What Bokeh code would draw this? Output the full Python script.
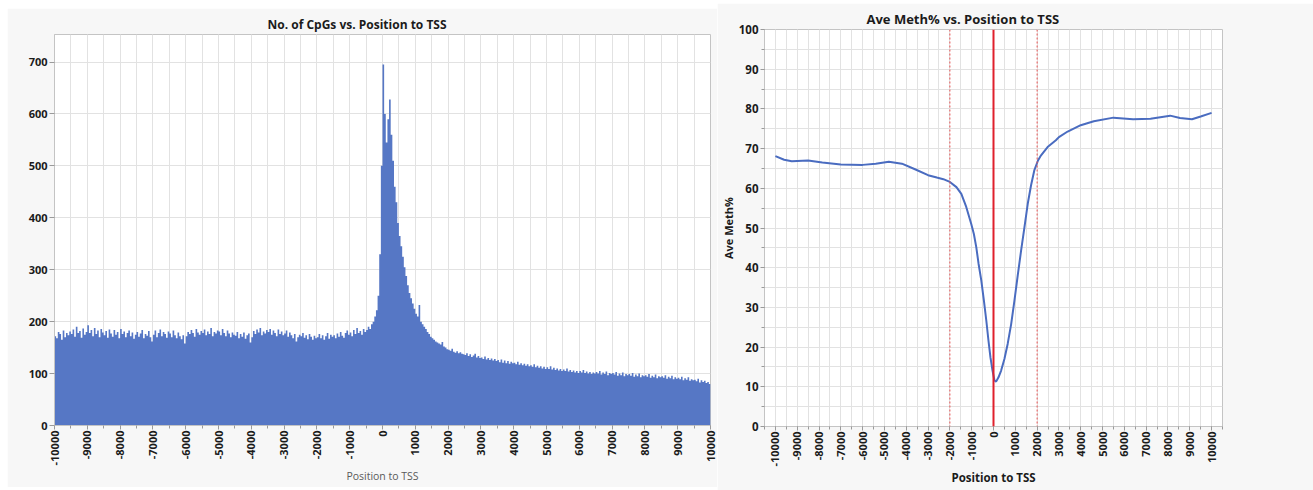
import numpy as np
from bokeh.plotting import figure
from bokeh.layouts import row, column
from bokeh.models import FixedTicker, Span, Spacer, Range1d
from bokeh.embed import file_html
from bokeh.resources import INLINE

# ---------------- Left chart data: No. of CpGs per 50 bp bin ----------------
bin_width = 50
bin_start = -10000
cpg_counts = [
    172,168,180,176,165,183,170,178,174,181,
    176,185,171,190,178,182,169,187,175,180,
    193,178,184,172,188,176,183,170,186,179,
    174,182,169,185,177,171,184,175,180,168,
    186,176,181,170,178,183,172,179,167,175,
    180,171,177,184,168,176,173,182,170,162,
    175,183,170,178,185,172,180,176,169,181,
    177,170,183,174,168,179,172,166,174,158,
    172,180,176,184,178,171,186,179,175,182,
    178,185,174,181,176,188,172,180,177,183,
    181,174,186,178,172,183,177,170,179,175,
    173,180,168,176,171,179,167,174,177,160,
    170,182,176,185,179,188,174,181,177,184,
    180,186,175,183,178,172,185,176,181,174,
    177,183,171,179,174,168,176,162,170,175,
    172,178,169,174,166,176,171,165,173,168,
    170,176,168,174,165,172,178,167,175,171,
    174,168,177,171,180,173,169,178,183,175,
    179,172,184,176,188,178,182,175,186,180,
    184,190,186,195,200,210,222,250,330,500,
    695,600,545,590,628,560,510,460,430,390,
    365,345,325,305,288,270,255,245,235,225,
    215,210,232,200,195,190,186,180,176,171,
    168,165,162,160,158,156,161,152,150,147,
    146,144,148,142,140,143,139,141,138,137,
    136,139,134,137,132,135,138,131,134,130,
    131,128,133,127,130,126,129,125,128,124,
    126,122,127,121,125,120,124,119,123,120,
    121,118,123,117,120,116,119,115,118,114,
    116,113,118,112,115,111,114,110,113,109,
    112,109,114,108,111,107,110,106,109,105,
    108,105,110,104,107,103,106,102,105,101,
    105,102,107,101,104,100,103,99,102,100,
    103,100,105,98,102,99,104,97,101,99,
    101,98,103,96,100,97,102,95,99,97,
    99,96,101,94,98,95,100,93,97,95,
    97,94,99,92,96,93,98,91,95,93,
    95,92,97,90,94,91,96,89,93,90,
    92,89,94,87,91,88,93,86,89,87,
    88,85,90,83,87,84,86,82,84,80,
]
left_title = "No. of CpGs vs. Position to TSS"
left_xlabel = "Position to TSS"
left_xticks = list(range(-10000, 10001, 1000))
left_xminor = list(range(-10000, 10001, 500))
left_yticks = [0, 100, 200, 300, 400, 500, 600, 700]

# ---------------- Right chart data: Ave Meth% ----------------
meth_pos = [-10000,-9600,-9250,-8500,-7850,-7000,-6000,-5400,-4800,-4200,-3600,
            -3000,-2600,-2300,-2000,-1700,-1475,-1250,-1020,-900,-790,-685,
            -560,-440,-330,-230,-140,-45,45,120,230,350,500,650,810,960,1110,
            1265,1420,1570,1720,1870,2040,2180,2480,2860,3000,3400,4000,4600,
            5500,6400,7200,8100,8550,9100,9500,10000]
meth_val = [68.1,67.2,66.8,67.0,66.5,66.0,65.9,66.2,66.7,66.2,64.8,
            63.3,62.7,62.3,61.6,60.3,58.6,55.3,51.0,48.5,45.2,41.0,
            36.8,31.7,26.7,21.6,17.4,14.1,11.6,11.3,12.4,14.1,17.0,20.8,25.8,31.7,38.0,
            44.3,50.2,56.1,60.7,64.5,67.0,68.3,70.4,72.1,72.9,74.3,75.9,76.9,
            77.8,77.4,77.5,78.3,77.7,77.4,78.1,79.0]
right_title = "Ave Meth% vs. Position to TSS"
right_xlabel = "Position to TSS"
right_ylabel = "Ave Meth%"
right_xticks = list(range(-10000, 10001, 1000))
right_xminor = list(range(-10500, 10501, 500))
right_yticks = list(range(0, 101, 10))
right_yminor = list(range(0, 101, 5))
marker_lines = [-2000, 2000]

FONT = "Open Sans"
BG = "#f7f7f7"
GRID = "#e2e2e2"
OUTLINE = "#c4c4c4"
TXT = "#1b1b1b"


def style_axes(p, size):
    for ax in (p.xaxis, p.yaxis):
        ax.major_label_text_font = FONT
        ax.major_label_text_font_style = "bold"
        ax.major_label_text_font_size = size
        ax.major_label_text_color = TXT
        ax.axis_line_color = OUTLINE
        ax.major_tick_line_color = "#9a9a9a"
        ax.minor_tick_line_color = "#9a9a9a"
        ax.major_tick_in = 0
        ax.minor_tick_in = 0
        ax.major_tick_out = 4
        ax.minor_tick_out = 3
        ax.major_label_standoff = 2


# ---------------- Left figure ----------------
p1 = figure(width=710, height=479, output_backend="svg", toolbar_location=None,
            x_range=Range1d(-10000, 10000), y_range=Range1d(0, 753),
            min_border_left=47, min_border_right=7, min_border_top=26,
            min_border_bottom=62)
p1.background_fill_color = "white"
p1.border_fill_color = BG
p1.outline_line_color = OUTLINE

edges = bin_start + bin_width * np.arange(len(cpg_counts) + 1)
xs = np.repeat(edges, 2)[1:-1]
ys = np.repeat(np.array(cpg_counts, dtype=float), 2)
p1.varea(x=xs, y1=0, y2=ys, fill_color="#5677c5")

p1.title.text = left_title
p1.title.text_font = FONT
p1.title.text_font_size = "12px"
p1.title.text_font_style = "bold"
p1.title.text_color = TXT
p1.title.align = "left"
p1.title.offset = 213
p1.title.standoff = 4

p1.xaxis.ticker = FixedTicker(ticks=left_xticks, minor_ticks=left_xminor)
p1.yaxis.ticker = FixedTicker(ticks=left_yticks, minor_ticks=[])
p1.xaxis.major_label_overrides = {t: str(t) for t in left_xticks}
p1.xaxis.major_label_orientation = np.pi / 2
style_axes(p1, "11px")
p1.yaxis.major_tick_out = 5
p1.xaxis.major_label_text_font_size = "11px"
p1.xaxis.major_label_standoff = 1
p1.xaxis.axis_label = left_xlabel
p1.xaxis.axis_label_text_font = FONT
p1.xaxis.axis_label_text_font_style = "normal"
p1.xaxis.axis_label_text_font_size = "10.5px"
p1.xaxis.axis_label_text_color = "#5a5a5a"
p1.xaxis.axis_label_standoff = 1
p1.xgrid.ticker = FixedTicker(ticks=left_xticks, minor_ticks=left_xminor)
p1.xgrid.grid_line_color = GRID
p1.xgrid.minor_grid_line_color = GRID
p1.ygrid.grid_line_color = GRID

# ---------------- Right figure ----------------
p2 = figure(width=596, height=487, output_backend="svg", toolbar_location=None,
            x_range=Range1d(-10500, 10500), y_range=Range1d(0, 100),
            min_border_left=45, min_border_right=91, min_border_top=26,
            min_border_bottom=64)
p2.background_fill_color = "white"
p2.border_fill_color = BG
p2.outline_line_color = OUTLINE

p2.title.text = right_title
p2.title.text_font = FONT
p2.title.text_font_size = "13px"
p2.title.text_font_style = "bold"
p2.title.text_color = TXT
p2.title.align = "left"
p2.title.offset = 102
p2.title.standoff = 3

p2.xaxis.ticker = FixedTicker(ticks=right_xticks, minor_ticks=right_xminor)
p2.yaxis.ticker = FixedTicker(ticks=right_yticks, minor_ticks=right_yminor)
p2.xaxis.major_label_overrides = {t: str(t) for t in right_xticks}
p2.xaxis.major_label_orientation = np.pi / 2
style_axes(p2, "11.5px")
p2.xaxis.major_label_text_font_size = "11px"
p2.xaxis.major_label_standoff = 1
for ax in (p2.xaxis, p2.yaxis):
    ax.axis_label_text_font = FONT
    ax.axis_label_text_font_style = "bold"
    ax.axis_label_text_color = TXT
p2.xaxis.axis_label = right_xlabel
p2.xaxis.axis_label_text_font_size = "11.5px"
p2.xaxis.axis_label_standoff = 1
p2.yaxis.axis_label = right_ylabel
p2.yaxis.axis_label_text_font_size = "11px"
p2.yaxis.axis_label_standoff = 0
p2.xgrid.ticker = FixedTicker(ticks=right_xticks, minor_ticks=right_xminor)
p2.ygrid.ticker = FixedTicker(ticks=right_yticks, minor_ticks=right_yminor)
p2.xgrid.grid_line_color = GRID
p2.xgrid.minor_grid_line_color = GRID
p2.ygrid.grid_line_color = GRID
p2.ygrid.minor_grid_line_color = GRID

for loc in marker_lines:
    p2.add_layout(Span(location=loc, dimension="height", line_color="#e85050",
                       line_width=1, line_dash="2 2"))
p2.add_layout(Span(location=0, dimension="height", line_color="#e0202c", line_width=2))
p2.line(meth_pos, meth_val, line_color="#4a6cc0", line_width=2)

layout = row(Spacer(width=7, height=490),
             column(Spacer(width=710, height=8), p1),
             column(Spacer(width=596, height=3), p2))
open("out.html", "w").write(file_html(layout, INLINE))
